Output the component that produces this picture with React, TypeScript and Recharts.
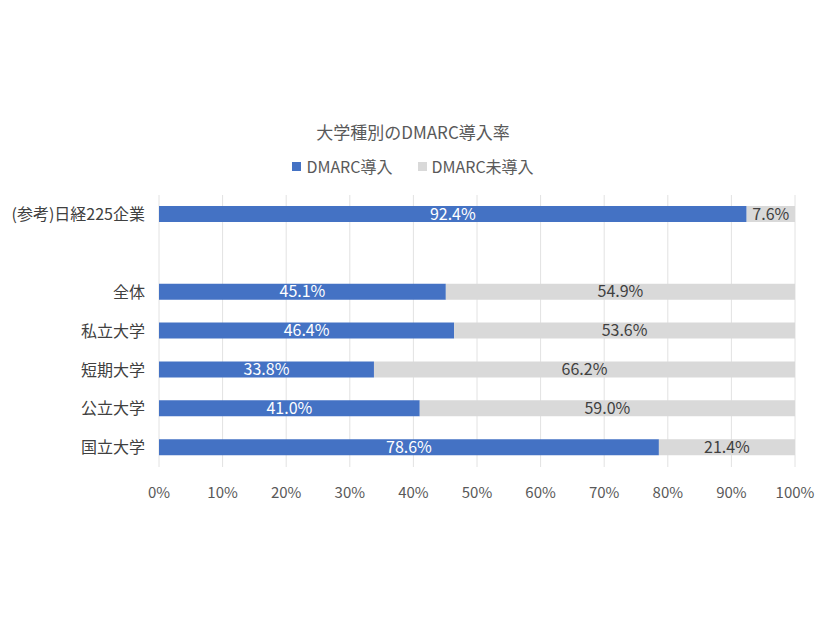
import React from 'react'
import { BarChart, Bar, XAxis, YAxis, CartesianGrid, LabelList } from 'recharts'

const categories = ['(参考)日経225企業', '', '全体', '私立大学', '短期大学', '公立大学', '国立大学']
const adopted = [92.4, null, 45.1, 46.4, 33.8, 41.0, 78.6]
const notAdopted = [7.6, null, 54.9, 53.6, 66.2, 59.0, 21.4]
const xTicks = [0, 10, 20, 30, 40, 50, 60, 70, 80, 90, 100]

const seriesNames = ['DMARC導入', 'DMARC未導入']
const seriesColors = ['#4472C4', '#D9D9D9']

const data = categories.map((name, i) => ({
  name,
  adopted: adopted[i],
  notAdopted: notAdopted[i],
}))

const font = '"Noto Sans CJK JP", "Noto Sans", sans-serif'

const fmt = (v: any) => (v == null ? '' : `${Number(v).toFixed(1)}%`)

function LegendBox() {
  return (
    <div
      style={{
        position: 'absolute',
        top: 154,
        left: 0,
        width: 826,
        display: 'flex',
        justifyContent: 'center',
        fontSize: 16,
        color: '#595959',
        lineHeight: '24px',
      }}
    >
      {seriesNames.map((n, i) => (
        <div key={n} style={{ display: 'flex', alignItems: 'center', marginRight: i === 0 ? 25 : 0 }}>
          <span style={{ display: 'inline-block', width: 9, height: 9, background: seriesColors[i], marginRight: 5 }} />
          <span>{n}</span>
        </div>
      ))}
    </div>
  )
}

export default function App() {
  return (
    <div style={{ position: 'absolute', left: 0, top: 0, width: 826, height: 620, background: '#fff', fontFamily: font }}>
      <div
        style={{
          position: 'absolute',
          top: 120,
          left: 0,
          width: 826,
          textAlign: 'center',
          fontSize: 17,
          color: '#595959',
          lineHeight: '24px',
        }}
      >
        大学種別のDMARC導入率
      </div>
      <LegendBox />
      <BarChart
        width={826}
        height={620}
        data={data}
        layout="vertical"
        margin={{ top: 195, right: 31, left: 0, bottom: 123 }}
        barCategoryGap={0}
      >
        <CartesianGrid horizontal={false} stroke="#E2E2E2" />
        <XAxis
          type="number"
          domain={[0, 100]}
          ticks={xTicks}
          tickFormatter={(v) => `${v}%`}
          axisLine={false}
          tickLine={false}
          tickMargin={14}
          height={30}
          tick={{ fill: '#595959', fontSize: 15, fontFamily: font }}
          interval={0}
        />
        <YAxis
          type="category"
          dataKey="name"
          width={159}
          axisLine={false}
          tickLine={false}
          tickMargin={8}
          tick={{ fill: '#404040', fontSize: 16, fontFamily: font }}
          interval={0}
        />
        <Bar dataKey="adopted" name={seriesNames[0]} stackId="a" fill={seriesColors[0]} barSize={16} isAnimationActive={false}>
          <LabelList dataKey="adopted" position="center" formatter={fmt} fill="#FFFFFF" fontSize={16} fontFamily={font} />
        </Bar>
        <Bar dataKey="notAdopted" name={seriesNames[1]} stackId="a" fill={seriesColors[1]} barSize={16} isAnimationActive={false}>
          <LabelList dataKey="notAdopted" position="center" formatter={fmt} fill="#404040" fontSize={16} fontFamily={font} />
        </Bar>
      </BarChart>
    </div>
  )
}
